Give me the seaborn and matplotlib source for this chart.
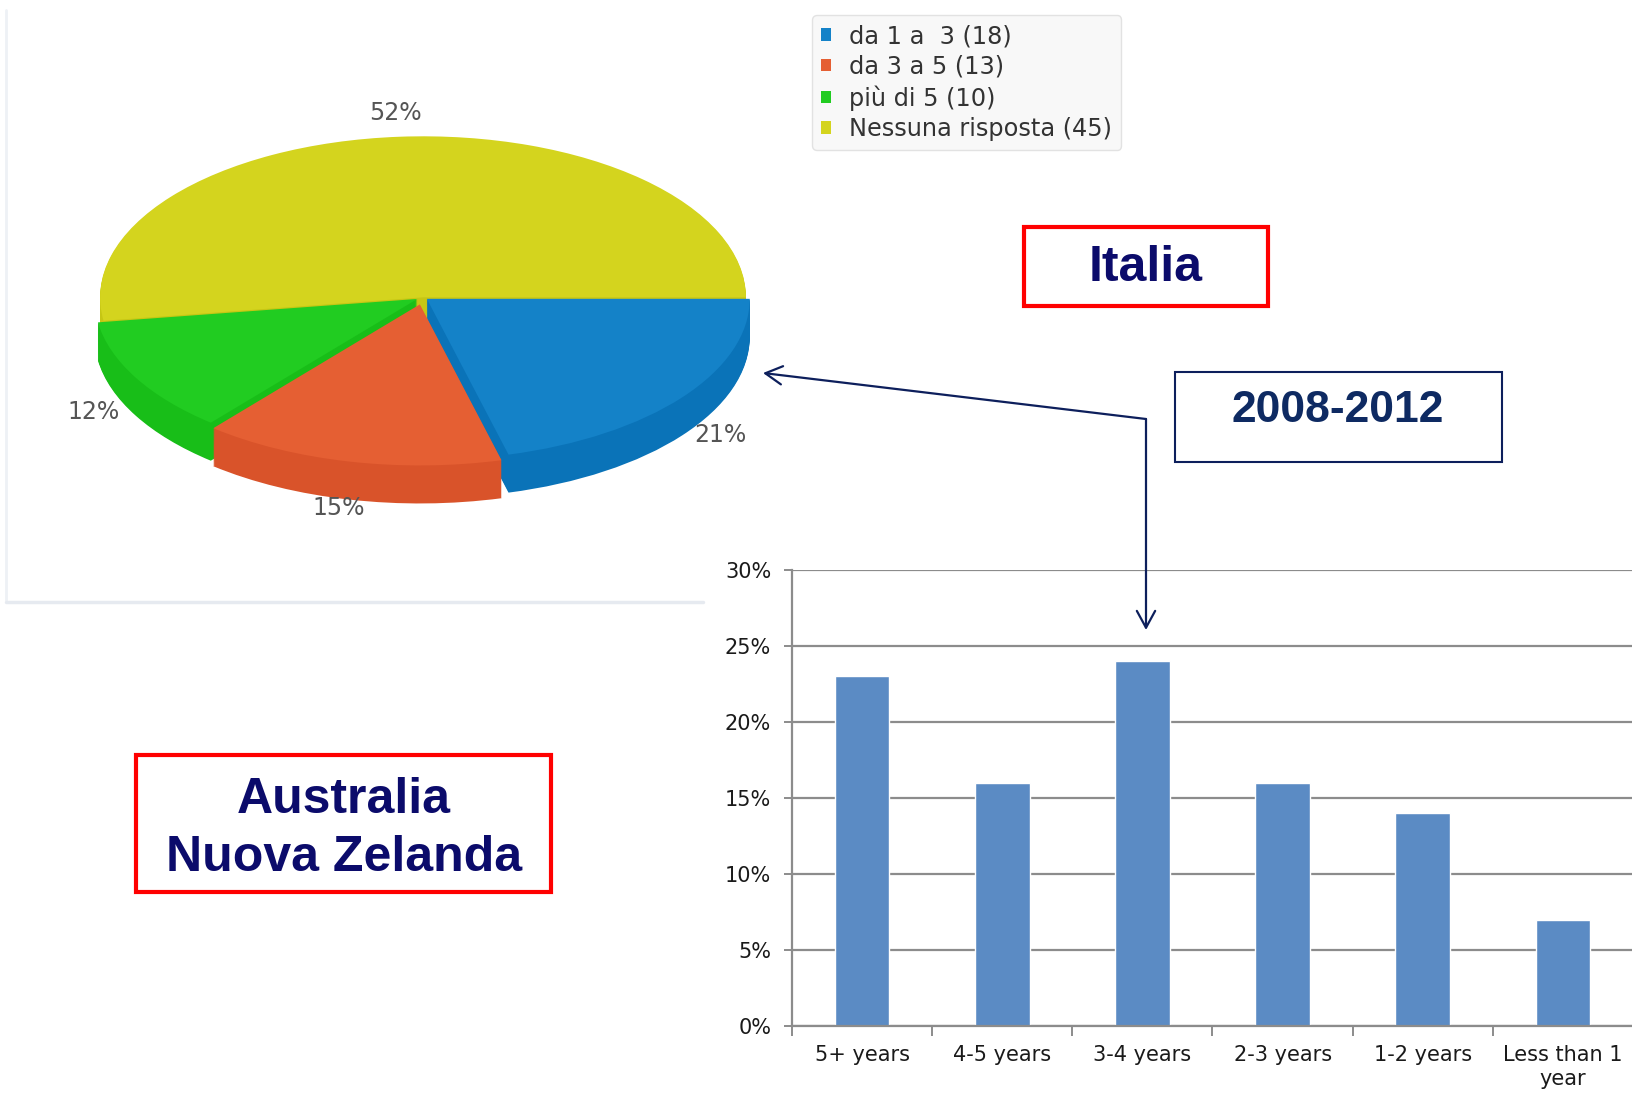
import numpy as np
import matplotlib
matplotlib.use('Agg')
import matplotlib.pyplot as plt
import matplotlib.patches as mpatches
from matplotlib.ticker import FuncFormatter
import seaborn as sns

# --- Italia (pie) ---
pie_labels = ['da 1 a  3 (18)', 'da 3 a 5 (13)', 'più di 5 (10)', 'Nessuna risposta (45)']
pie_counts = [18, 13, 10, 45]
pie_pct_labels = ['21%', '15%', '12%', '52%']
pie_top_colors = ['#1482C8', '#E55F33', '#21CC21', '#D4D41E']
pie_side_colors = ['#0A73B8', '#D9532A', '#18BE18', '#C6C614']
pie_explode = [0.015, 0.045, 0.02, 0.0]

# --- Australia / Nuova Zelanda (bars) ---
bar_cats = ['5+ years', '4-5 years', '3-4 years', '2-3 years', '1-2 years', 'Less than 1\nyear']
bar_vals = [23, 16, 24, 16, 14, 7]
bar_color = '#5B8BC4'

sns.set_style('white')
plt.rcParams['font.family'] = ['DejaVu Sans']

W, H = 1633, 1098
fig = plt.figure(figsize=(W / 100, H / 100), dpi=100)


def frac(x0, y0, x1, y1):
    # pixel box (top-left origin) -> figure fraction rect
    return [x0 / W, 1 - y1 / H, (x1 - x0) / W, (y1 - y0) / H]


# 3D-looking pie: stacked darker layers, then the top face
axp = fig.add_axes(frac(0, 88, 846, 555))
depth = 0.236
for off in np.linspace(-depth, 0, 40)[:-1]:
    axp.pie(pie_counts, colors=pie_side_colors, explode=pie_explode, startangle=0,
            counterclock=False, center=(0, off), wedgeprops=dict(linewidth=0))
wedges, texts = axp.pie(pie_counts, colors=pie_top_colors, explode=pie_explode, startangle=0,
                        counterclock=False, labels=pie_pct_labels, labeldistance=1.15,
                        wedgeprops=dict(linewidth=0),
                        textprops=dict(color='#555555', fontsize=17))
for t in texts:
    t.set_ha('center')
    t.set_va('center')
    x, y = t.get_position()
    if y < 0:
        t.set_position((x, y - 0.6 * depth))
axp.set_aspect('auto')
axp.set_xlim(-1.31, 1.31)
axp.set_ylim(-1.6, 1.3)
axp.axis('off')

fig.legend(handles=wedges, labels=pie_labels, loc='upper left',
           bbox_to_anchor=(812 / W, 1 - 15 / H), borderaxespad=0, fontsize=17.3,
           frameon=True, fancybox=True,
           facecolor='#F8F8F8', edgecolor='#E2E2E2', framealpha=1,
           handlelength=0.42, handleheight=0.42, handletextpad=0.75,
           labelspacing=0.27, borderpad=0.38, labelcolor='#333333')

# bar chart
axb = fig.add_axes(frac(792, 570, 1633, 1026))
sns.barplot(x=bar_cats, y=bar_vals, color=bar_color, saturation=1, width=0.39, ax=axb)
axb.set_ylim(0, 30)
axb.set_yticks(range(0, 31, 5))
axb.yaxis.set_major_formatter(FuncFormatter(lambda v, p: f'{int(v)}%'))
axb.set_xlim(-0.5, 5.5)
axb.set_xticks(np.arange(-0.5, 6, 1))
axb.set_xticklabels([])
axb.set_xticks(range(len(bar_cats)), minor=True)
axb.set_xticklabels(bar_cats, minor=True)
axb.set_xlabel('')
axb.set_ylabel('')
axb.yaxis.grid(True, color='#8C8C8C', lw=1.6)
axb.set_axisbelow(True)
for s in ['top', 'right']:
    axb.spines[s].set_visible(False)
for s in ['left', 'bottom']:
    axb.spines[s].set_color('#8C8C8C')
    axb.spines[s].set_linewidth(1.6)
axb.tick_params(axis='y', length=6, width=1.4, color='#8C8C8C', pad=9,
                labelsize=15, labelcolor='#1a1a1a', left=True)
axb.tick_params(axis='x', which='major', length=7, width=1.4, color='#8C8C8C', bottom=True)
axb.tick_params(axis='x', which='minor', length=0, pad=14, labelsize=15, labelcolor='#1a1a1a')

# overlay: boxes, titles, arrow
ov = fig.add_axes([0, 0, 1, 1])
ov.set_xlim(0, W)
ov.set_ylim(H, 0)
ov.axis('off')
ov.patch.set_alpha(0)

ov.plot([6, 6], [10, 600], color='#EEF1F5', lw=2)
ov.plot([6, 703], [602, 602], color='#E6EAF0', lw=2.5)

navy = '#0B0B6B'
ov.add_patch(mpatches.Rectangle((1024, 227), 244, 79, fill=False, ec='#FF0000', lw=3))
ov.text(1146, 268, 'Italia', ha='center', va='center', fontsize=36, fontweight='bold',
        color=navy, family='Liberation Sans')

ov.add_patch(mpatches.Rectangle((136, 755), 415, 137, fill=False, ec='#FF0000', lw=3))
ov.text(344, 829, 'Australia\nNuova Zelanda', ha='center', va='center', fontsize=36,
        fontweight='bold', color=navy, family='Liberation Sans', linespacing=1.33)

ov.add_patch(mpatches.Rectangle((1175, 372), 327, 90, fill=False, ec='#0D1F5C', lw=1.5))
ov.text(1338, 410, '2008-2012', ha='center', va='center', fontsize=32, fontweight='bold',
        color='#0E2A62', family='Liberation Sans')

arrow_kw = dict(arrowstyle='->,head_length=0.55,head_width=0.3', color='#0D1F5C',
                lw=1.6, shrinkA=0, shrinkB=0, mutation_scale=22)
ov.annotate('', xy=(763, 373), xytext=(1146, 419), arrowprops=arrow_kw)
ov.annotate('', xy=(1146, 630), xytext=(1146, 419), arrowprops=arrow_kw)

fig.savefig('out.png', dpi=100, facecolor='white')
